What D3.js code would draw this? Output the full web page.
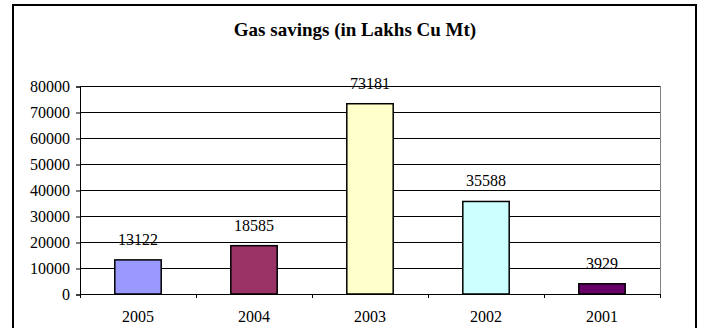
<!DOCTYPE html>
<html>
<head>
<meta charset="utf-8">
<script src="https://cdn.jsdelivr.net/npm/d3@7"></script>
<style>
  body { margin: 0; background: #fff; }
  svg { display: block; }
</style>
</head>
<body>
<svg width="705" height="328"></svg>
<script>
// Данные графика
const years = ["2005", "2004", "2003", "2002", "2001"];
const savings = [13122, 18585, 73181, 35588, 3929];
const barColors = ["#9999ff", "#993366", "#ffffcc", "#ccffff", "#660066"];
const yTicks = [0, 10000, 20000, 30000, 40000, 50000, 60000, 70000, 80000];
const title = "Gas savings (in Lakhs Cu Mt)";

const FONT = "Liberation Serif";

const svg = d3.select("svg");

// Рамка всей диаграммы
svg.append("rect")
   .attr("x", 13).attr("y", 5)
   .attr("width", 683).attr("height", 330)
   .attr("fill", "#fff")
   .attr("stroke", "#000")
   .attr("stroke-width", 2);

svg.append("text")
   .attr("x", 355).attr("y", 36)
   .attr("text-anchor", "middle")
   .attr("font-family", FONT)
   .attr("font-size", 19)
   .attr("font-weight", "bold")
   .text(title);

const area = { left: 80, right: 660, top: 86, bottom: 294 };

// Шкалы
const scaleX = d3.scaleBand()
                 .domain(years)
                 .range([area.left, area.right]);

const scaleY = d3.scaleLinear()
                 .domain([0, 80000])
                 .range([area.bottom, area.top]);

// Линии сетки
svg.append("g")
   .selectAll("line")
   .data(yTicks.slice(1))
   .enter()
   .append("line")
   .attr("x1", area.left).attr("x2", area.right)
   .attr("y1", d => scaleY(d) + 0.5).attr("y2", d => scaleY(d) + 0.5)
   .attr("stroke", "#000")
   .attr("stroke-width", 1);

// правая граница области графика
svg.append("line")
   .attr("x1", area.right + 0.5).attr("x2", area.right + 0.5)
   .attr("y1", area.top).attr("y2", area.bottom)
   .attr("stroke", "#808080");

// Ось Y
const axisY = d3.axisLeft(scaleY)
                .tickValues(yTicks)
                .tickSize(4)
                .tickPadding(6)
                .tickFormat(d3.format("d"));

const gY = svg.append("g")
   .attr("transform", `translate(${area.left}, 0.5)`)
   .call(axisY)
   .attr("font-family", FONT)
   .attr("font-size", 16);
gY.select(".domain").attr("stroke", "#000");
gY.selectAll("text").attr("fill", "#000");

// Столбцы
const barW = scaleX.bandwidth() * 0.4;
svg.append("g")
   .selectAll("rect")
   .data(years)
   .enter()
   .append("rect")
   .attr("x", d => scaleX(d) + (scaleX.bandwidth() - barW) / 2)
   .attr("y", (d, i) => scaleY(savings[i]))
   .attr("width", barW)
   .attr("height", (d, i) => scaleY(0) - scaleY(savings[i]))
   .attr("fill", (d, i) => barColors[i])
   .attr("stroke", "#000")
   .attr("stroke-width", 1.5);

// Подписи значений
svg.append("g")
   .selectAll("text")
   .data(years)
   .enter()
   .append("text")
   .attr("x", d => scaleX(d) + scaleX.bandwidth() / 2)
   .attr("y", (d, i) => scaleY(savings[i]) - 15)
   .attr("text-anchor", "middle")
   .attr("font-family", FONT)
   .attr("font-size", 16)
   .text((d, i) => savings[i]);

// Ось X: засечки на границах категорий
const xBounds = years.map(d => scaleX(d)).concat([area.right]);
svg.append("line")
   .attr("x1", area.left).attr("x2", area.right)
   .attr("y1", area.bottom + 0.5).attr("y2", area.bottom + 0.5)
   .attr("stroke", "#000");
svg.append("g")
   .selectAll("line")
   .data(xBounds)
   .enter()
   .append("line")
   .attr("x1", d => d + 0.5).attr("x2", d => d + 0.5)
   .attr("y1", area.bottom).attr("y2", area.bottom + 4)
   .attr("stroke", "#000");

svg.append("g")
   .selectAll("text")
   .data(years)
   .enter()
   .append("text")
   .attr("x", d => scaleX(d) + scaleX.bandwidth() / 2)
   .attr("y", 322)
   .attr("text-anchor", "middle")
   .attr("font-family", FONT)
   .attr("font-size", 16)
   .text(d => d);
</script>
</body>
</html>
